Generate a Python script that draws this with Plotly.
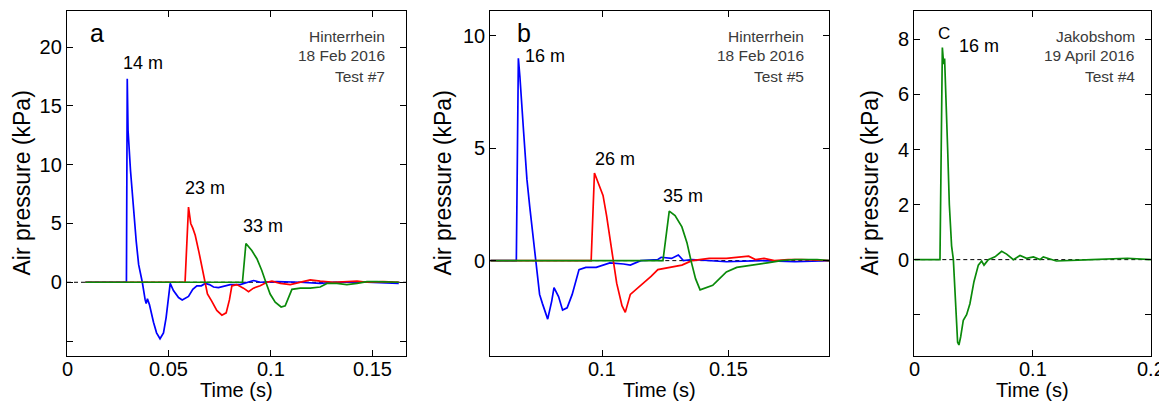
import plotly.graph_objects as go

# ---------------- data ----------------
# Panel a (Hinterrhein 18 Feb 2016, Test #7)
a_blue_t = [0.009, 0.0292, 0.0296, 0.0300, 0.0312, 0.0326, 0.0340, 0.0352, 0.0370, 0.0384, 0.0389, 0.0395,
            0.0405, 0.0425, 0.0440, 0.0457, 0.0466, 0.0474, 0.0487, 0.0500, 0.0507, 0.0523, 0.0548, 0.0566,
            0.0597, 0.0618, 0.0638, 0.0660, 0.0679, 0.0700, 0.0720, 0.0744, 0.0775, 0.0802, 0.0851, 0.0892,
            0.0916, 0.0949, 0.1031, 0.1146, 0.1244, 0.1310, 0.1474, 0.1630]
a_blue_p = [0, 0, 17.3, 12.9, 9.5, 6.3, 3.5, 1.5, 0, -1.5, -1.8, -1.4,
            -1.9, -3.4, -4.3, -4.8, -4.5, -4.3, -3.0, -1.0, -0.1, -0.7, -1.3, -1.5,
            -1.2, -0.6, -0.3, -0.3, -0.1, -0.2, -0.4, -0.45, -0.3, -0.2, -0.2, 0.05,
            0.15, 0.0, 0.05, 0.0, -0.1, 0.0, 0.0, -0.1]
a_red_t = [0.009, 0.0580, 0.0597, 0.0608, 0.0618, 0.0630, 0.0649, 0.0666, 0.0675, 0.0690, 0.0711, 0.0736,
           0.0761, 0.0782, 0.0798, 0.0810, 0.0834, 0.0867, 0.0892, 0.0916, 0.0949, 0.0982, 0.1007, 0.1048,
           0.1097, 0.1146, 0.1195, 0.1244, 0.1310, 0.1425, 0.1474, 0.1556, 0.1630]
a_red_p = [0, 0, 6.4, 5.0, 4.6, 4.0, 2.5, 1.0, 0, -1.0, -1.6, -2.4,
           -2.8, -2.6, -1.5, -0.3, -0.2, -0.5, -0.8, -0.5, -0.3, 0.0, 0.1, -0.1,
           -0.2, 0.0, 0.2, 0.1, 0.0, 0.1, 0.0, 0.05, 0.0]
a_green_t = [0.009, 0.0862, 0.0879, 0.0892, 0.0908, 0.0933, 0.0957, 0.0977, 0.0998, 0.1023, 0.1052, 0.1072,
             0.1089, 0.1105, 0.1146, 0.1195, 0.1244, 0.1277, 0.1326, 0.1375, 0.1425, 0.1474, 0.1523, 0.1630]
a_green_p = [0, 0, 3.3, 3.0, 2.7, 2.0, 1.0, 0, -1.0, -1.7, -2.1, -2.0,
             -1.2, -0.6, -0.5, -0.5, -0.4, -0.1, -0.1, -0.2, -0.1, 0.05, 0.05, 0.0]

# Panel b (Hinterrhein 18 Feb 2016, Test #5)
b_blue_t = [0.0558, 0.0661, 0.0669, 0.0675, 0.0690, 0.0703, 0.0714, 0.0726, 0.0737, 0.0753, 0.0764, 0.0785,
            0.0801, 0.0810, 0.0828, 0.0844, 0.0862, 0.0882, 0.0909, 0.0936, 0.0977, 0.1031, 0.1085, 0.1112,
            0.1153, 0.1221, 0.1234, 0.1275, 0.1302, 0.1322, 0.1356, 0.1424, 0.1492, 0.1627, 0.1763, 0.1898]
b_blue_p = [0, 0, 9.0, 8.2, 5.7, 3.6, 2.4, 1.2, 0, -1.5, -1.9, -2.6,
            -1.8, -1.2, -1.6, -2.2, -2.1, -1.5, -0.4, -0.3, -0.3, -0.1, -0.15, -0.2,
            0.0, 0.05, 0.15, 0.1, 0.25, 0.0, 0.05, 0.0, -0.05, 0.0, -0.05, 0.0]
b_red_t = [0.0558, 0.0957, 0.0970, 0.0984, 0.1004, 0.1018, 0.1031, 0.1045, 0.1058, 0.1079, 0.1092, 0.1112,
           0.1133, 0.1160, 0.1194, 0.1221, 0.1275, 0.1316, 0.1356, 0.1424, 0.1492, 0.1580, 0.1607, 0.1641,
           0.1682, 0.1736, 0.1790, 0.1898]
b_red_p = [0, 0, 3.9, 3.5, 2.9, 2.0, 1.0, 0, -1.0, -2.0, -2.3, -1.5,
           -1.3, -1.0, -0.7, -0.4, -0.3, -0.2, 0.0, 0.1, 0.1, 0.2, 0.05, 0.1,
           0.0, 0.05, 0.05, 0.0]
b_green_t = [0.0558, 0.1241, 0.1266, 0.1289, 0.1316, 0.1336, 0.1352, 0.1370, 0.1388, 0.1411, 0.1438, 0.1465,
             0.1492, 0.1533, 0.1600, 0.1654, 0.1709, 0.1763, 0.1851, 0.1898]
b_green_p = [0, 0, 2.2, 2.0, 1.5, 0.8, 0, -0.8, -1.3, -1.2, -1.1, -0.8,
             -0.5, -0.3, -0.2, -0.1, 0.0, 0.05, 0.05, 0.0]

# Panel c (Jakobshom 19 April 2016, Test #4)
c_green_t = [0.0, 0.0217, 0.0237, 0.0248, 0.0256, 0.0268, 0.0282, 0.0296, 0.0315, 0.0330, 0.0344, 0.0352,
             0.0366, 0.0377, 0.0392, 0.0414, 0.0442, 0.0470, 0.0504, 0.0541, 0.0569, 0.0589, 0.0625, 0.0682,
             0.0738, 0.0780, 0.0837, 0.0893, 0.0949, 0.1006, 0.1062, 0.1090, 0.1200, 0.1500, 0.1800, 0.2000]
c_green_p = [0, 0, 7.7, 7.1, 7.3, 6.0, 4.0, 2.0, 0.5, 0.0, -1.0, -2.0,
             -3.0, -3.1, -2.8, -2.2, -2.0, -1.6, -0.8, -0.2, -0.05, -0.2, 0.0, 0.1,
             0.3, 0.2, 0.0, 0.15, 0.05, 0.1, 0.0, 0.1, -0.05, 0.0, 0.05, 0.0]

a_xrange = [0, 0.1667]
a_yrange = [-6.27, 23.07]
b_xrange = [0.0558, 0.1898]
b_yrange = [-4.24, 11.1]
c_xrange = [0, 0.2]
c_yrange = [-3.5, 9.03]

a_xticks = [0, 0.05, 0.1, 0.15]
a_xtext = ["0", "0.05", "0.1", "0.15"]
a_yticks = [-5, 0, 5, 10, 15, 20]
a_ytext = ["", "0", "5", "10", "15", "20"]
b_xticks = [0.1, 0.15]
b_xtext = ["0.1", "0.15"]
b_yticks = [0, 5, 10]
b_ytext = ["0", "5", "10"]
c_xticks = [0, 0.1, 0.2]
c_xtext = ["0", "0.1", "0.2"]
c_yticks = [-2, 0, 2, 4, 6, 8]
c_ytext = ["", "0", "2", "4", "6", "8"]

BLUE = "#0000ff"
RED = "#ff0000"
GREEN = "#0a8a0a"
FONT = "Arial, Liberation Sans, sans-serif"

# page body has an 8px margin: the figure is drawn offset by (8, 8)
OFF = 8
W, H = 1167 - OFF, 403 - OFF

def px(x):
    return (x - OFF) / W

def py(y):
    return 1 - (y - OFF) / H

fig = go.Figure()

panels = [
    ("x", "y", a_xrange, [(a_blue_t, a_blue_p, BLUE), (a_red_t, a_red_p, RED), (a_green_t, a_green_p, GREEN)]),
    ("x2", "y2", b_xrange, [(b_blue_t, b_blue_p, BLUE), (b_red_t, b_red_p, RED), (b_green_t, b_green_p, GREEN)]),
    ("x3", "y3", c_xrange, [(c_green_t, c_green_p, GREEN)]),
]
for xa, ya, xr, series in panels:
    fig.add_trace(go.Scatter(x=xr, y=[0, 0], mode="lines", xaxis=xa, yaxis=ya,
                             line=dict(color="black", width=1, dash="4px,3px"), showlegend=False,
                             hoverinfo="skip"))
    for t, p, col in series:
        fig.add_trace(go.Scatter(x=t, y=p, mode="lines", xaxis=xa, yaxis=ya,
                                 line=dict(color=col, width=1.7), showlegend=False))

ydom = [py(356), py(11)]
common = dict(showline=True, linecolor="black", linewidth=1.3, mirror="allticks", ticks="inside",
              ticklen=6, tickwidth=1.2, tickcolor="black", showgrid=False, zeroline=False,
              tickfont=dict(family=FONT, size=20, color="black"))

fig.update_layout(
    width=W, height=H,
    margin=dict(l=0, r=0, t=0, b=0),
    paper_bgcolor="white", plot_bgcolor="white",
    showlegend=False,
    xaxis=dict(domain=[px(67), px(406.3)], range=a_xrange, tickvals=a_xticks, showticklabels=False, anchor="y", **common),
    yaxis=dict(domain=ydom, range=a_yrange, tickvals=a_yticks, ticktext=a_ytext, anchor="x", **common),
    xaxis2=dict(domain=[px(490.3), px(829)], range=b_xrange, tickvals=b_xticks, showticklabels=False, anchor="y2", **common),
    yaxis2=dict(domain=ydom, range=b_yrange, tickvals=b_yticks, ticktext=b_ytext, anchor="x2", **common),
    xaxis3=dict(domain=[px(914.3), px(1151)], range=c_xrange, tickvals=c_xticks, showticklabels=False, anchor="y3", **common),
    yaxis3=dict(domain=ydom, range=c_yrange, tickvals=c_yticks, ticktext=c_ytext, anchor="x3", **common),
)

ann = []

def add_text(text, x, y, size, xanchor="center", color="black", textangle=0, yanchor="middle"):
    ann.append(dict(text=text, x=px(x), y=py(y), xref="paper", yref="paper", showarrow=False,
                    xanchor=xanchor, yanchor=yanchor, textangle=textangle,
                    font=dict(family=FONT, size=size, color=color)))

# x tick labels, positioned through each x axis
for xref, vals, texts in [("x", a_xticks, a_xtext), ("x2", b_xticks, b_xtext), ("x3", c_xticks, c_xtext)]:
    for v, t in zip(vals, texts):
        ann.append(dict(text=t, x=v, xref=xref, y=py(369), yref="paper", showarrow=False,
                        xanchor="center", yanchor="middle",
                        font=dict(family=FONT, size=20, color="black")))

# axis titles
for cx in [22, 443, 870]:
    add_text("Air pressure (kPa)", cx, 183.5, 23, textangle=-90)
for cx in [236.6, 659.6, 1032.6]:
    add_text("Time (s)", cx, 403, 20, yanchor="bottom")

# panel letters
add_text("a", 97, 33, 25)
add_text("b", 524, 33, 25)
add_text("C", 944, 33, 17)

# curve labels
add_text("14 m", 143, 63, 18)
add_text("23 m", 205, 188, 18)
add_text("33 m", 263, 226, 18)
add_text("16 m", 545, 56, 18)
add_text("26 m", 615, 159, 18)
add_text("35 m", 683, 196, 18)
add_text("16 m", 979, 46, 18)

# site info
GREY = "#3a3a3a"
for x_right, lines in [(387, ["Hinterrhein", "18 Feb 2016", "Test #7"]),
                       (806, ["Hinterrhein", "18 Feb 2016", "Test #5"]),
                       (1137, ["Jakobshom", "19 April 2016", "Test #4"])]:
    for i, line in enumerate(lines):
        add_text(line, x_right, 36 + 20 * i, 15.5, xanchor="right", color=GREY)

fig.update_layout(annotations=ann)

fig.write_html("out.html")
